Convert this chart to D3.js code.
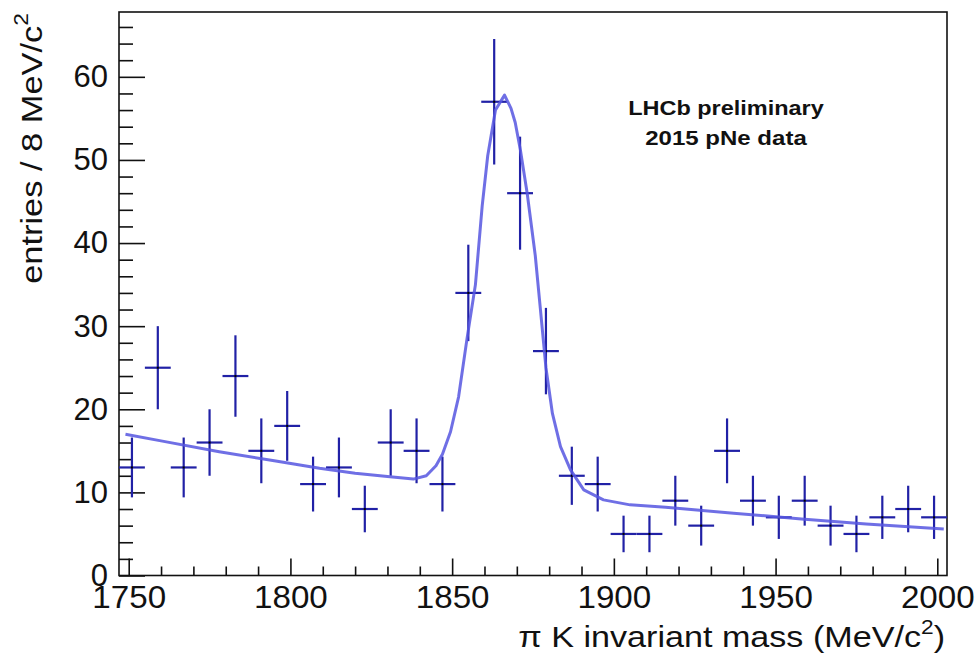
<!DOCTYPE html>
<html>
<head>
<meta charset="utf-8">
<script src="https://cdn.jsdelivr.net/npm/d3@7"></script>
<style>
  html, body { margin: 0; padding: 0; background: #fff; }
  svg { display: block; font-family: "Liberation Sans", Arial, Helvetica, sans-serif; }
</style>
</head>
<body>
<svg id="chart" width="978" height="653"></svg>
<script>
// Bin centres of the D0 -> pi K mass histogram (8 MeV/c^2 bins)
const binCenters = [1751, 1759, 1767, 1775, 1783, 1791, 1799, 1807, 1815, 1823, 1831,
  1839, 1847, 1855, 1863, 1871, 1879, 1887, 1895, 1903, 1911, 1919, 1927, 1935,
  1943, 1951, 1959, 1967, 1975, 1983, 1991, 1999];
// Entries per bin
const entries = [13, 25, 13, 16, 24, 15, 18, 11, 13, 8, 16, 15, 11, 34, 57, 46, 27,
  12, 11, 5, 5, 9, 6, 15, 9, 7, 9, 6, 5, 7, 8, 7];
// Statistical uncertainty per bin
const errors = [3.6, 5.0, 3.6, 4.0, 4.9, 3.9, 4.2, 3.3, 3.6, 2.8, 4.0, 3.9, 3.3, 5.8,
  7.55, 6.8, 5.2, 3.5, 3.3, 2.2, 2.2, 3.0, 2.4, 3.9, 3.0, 2.6, 3.0, 2.4, 2.2, 2.6,
  2.8, 2.6];
const binWidth = 8;

// Fitted signal + background curve, sampled along the mass range
const fitMass = [1749, 1760, 1778, 1795, 1809, 1820, 1830, 1838, 1842, 1845, 1847,
  1849.5, 1852, 1854.6, 1857.2, 1859.3, 1861, 1863.4, 1866.2, 1868.2, 1869.5, 1871.1,
  1873.2, 1875.7, 1877.3, 1879, 1881, 1883.5, 1886.6, 1890.7, 1896.8, 1905, 1916,
  1937, 1958, 1978, 2002];
const fitValue = [17.0, 16.2, 14.9, 13.8, 12.9, 12.3, 11.9, 11.6, 12.0, 13.2, 14.6,
  17.3, 21.5, 28.5, 35.0, 44.5, 50.5, 56.0, 57.8, 56.2, 54.5, 51.2, 46.0, 38.5, 32.0,
  25.0, 19.5, 15.5, 12.7, 10.3, 9.1, 8.5, 8.2, 7.5, 6.8, 6.2, 5.6];

const xMajor = [1750, 1800, 1850, 1900, 1950, 2000];
const xMinor = [1760, 1770, 1780, 1790, 1810, 1820, 1830, 1840, 1860, 1870, 1880,
  1890, 1910, 1920, 1930, 1940, 1960, 1970, 1980, 1990];
const yMajor = [0, 10, 20, 30, 40, 50, 60];
const yMinor = [2, 4, 6, 8, 12, 14, 16, 18, 22, 24, 26, 28, 32, 34, 36, 38, 42, 44,
  46, 48, 52, 54, 56, 58, 62, 64, 66];

const xTitle = ["\u03c0 K invariant mass (MeV/c", "2", ")"];
const yTitle = ["entries / 8 MeV/c", "2"];
const labelLines = ["LHCb preliminary", "2015 pNe data"];

const svg = d3.select("#chart");
const L = 119, R = 947, T = 12, B = 575.5;

const x = d3.scaleLinear().domain([1747, 2003]).range([L, R]);
const y = d3.scaleLinear().domain([0, 67.8]).range([B, T]);

// Axes: ticks point into the frame
function styleAxis(g) {
  g.select(".domain").remove();
  g.selectAll(".tick line").attr("stroke", "#111").attr("stroke-width", 1.6);
  g.selectAll(".tick text").attr("fill", "#111");
}

svg.append("g").attr("transform", `translate(0,${B})`)
  .call(d3.axisBottom(x).tickValues(xMinor).tickSize(-9).tickFormat(""))
  .call(styleAxis);
svg.append("g").attr("transform", `translate(0,${B})`)
  .call(d3.axisBottom(x).tickValues(xMajor).tickSize(-17).tickPadding(10).tickFormat(d3.format("d")))
  .call(styleAxis)
  .selectAll(".tick text").attr("font-size", 31).attr("font-family", null)
  .attr("transform", "scale(1.07,1)");

svg.append("g").attr("transform", `translate(${L},0)`)
  .call(d3.axisLeft(y).tickValues(yMinor).tickSize(-14).tickFormat(""))
  .call(styleAxis);
svg.append("g").attr("transform", `translate(${L},0)`)
  .call(d3.axisLeft(y).tickValues(yMajor).tickSize(-26).tickPadding(11).tickFormat(d3.format("d")))
  .call(styleAxis)
  .selectAll(".tick text").attr("font-size", 31).attr("font-family", null);

// Frame
svg.append("rect")
  .attr("x", L).attr("y", T).attr("width", R - L).attr("height", B - T)
  .attr("fill", "none").attr("stroke", "#111").attr("stroke-width", 1.6);

// Data points with error bars
const pts = binCenters.map((m, i) => ({ m, v: entries[i], e: errors[i] }));
const gPts = svg.append("g").attr("stroke", "#2121a6").attr("stroke-width", 2.2);
gPts.selectAll("line.h").data(pts).join("line").attr("class", "h")
  .attr("x1", d => x(d.m - binWidth / 2)).attr("x2", d => x(d.m + binWidth / 2))
  .attr("y1", d => y(d.v)).attr("y2", d => y(d.v));
gPts.selectAll("line.v").data(pts).join("line").attr("class", "v")
  .attr("x1", d => x(d.m)).attr("x2", d => x(d.m))
  .attr("y1", d => y(d.v + d.e)).attr("y2", d => y(d.v - d.e));
svg.append("g").selectAll("rect").data(pts).join("rect")
  .attr("x", d => x(d.m) - 1).attr("y", d => y(d.v) - 1)
  .attr("width", 2).attr("height", 2).attr("fill", "#000");

// Fit curve
const fitPts = fitMass.map((m, i) => [m, fitValue[i]]);
svg.append("path").datum(fitPts)
  .attr("d", d3.line().x(d => x(d[0])).y(d => y(d[1])))
  .attr("fill", "none").attr("stroke", "#5656e0").attr("stroke-width", 3)
  .attr("stroke-opacity", 0.85).attr("stroke-linejoin", "round");

// Stretch a text element horizontally (in its own frame) to a target length
function fit(sel, target) {
  const w = sel.node().getBBox().width;
  return w > 0 ? target / w : 1;
}

// X axis title
const xt = svg.append("text").attr("font-size", 30).attr("fill", "#111")
  .attr("text-anchor", "end");
xt.append("tspan").text(xTitle[0]);
xt.append("tspan").attr("font-size", 20).attr("dy", -13.5).text(xTitle[1]);
xt.append("tspan").attr("dy", 13.5).text(xTitle[2]);
const kx = fit(xt, 427);
xt.attr("transform", `translate(945,647) scale(${kx},1)`);

// Y axis title
const yt = svg.append("text").attr("font-size", 30).attr("fill", "#111")
  .attr("text-anchor", "end");
yt.append("tspan").text(yTitle[0]);
yt.append("tspan").attr("font-size", 20).attr("dy", -14.5).text(yTitle[1]);
const ky = fit(yt, 271);
yt.attr("transform", `translate(42,13) rotate(-90) scale(${ky},1)`);

// Experiment label
const lbl = [[labelLines[0], 115, 196], [labelLines[1], 145, 162]];
lbl.forEach(([s, by, w]) => {
  const t = svg.append("text").attr("font-size", 21).attr("font-weight", "bold")
    .attr("fill", "#111").attr("text-anchor", "middle").text(s);
  const k = fit(t, w);
  t.attr("transform", `translate(726,${by}) scale(${k},1)`);
});
</script>
</body>
</html>
